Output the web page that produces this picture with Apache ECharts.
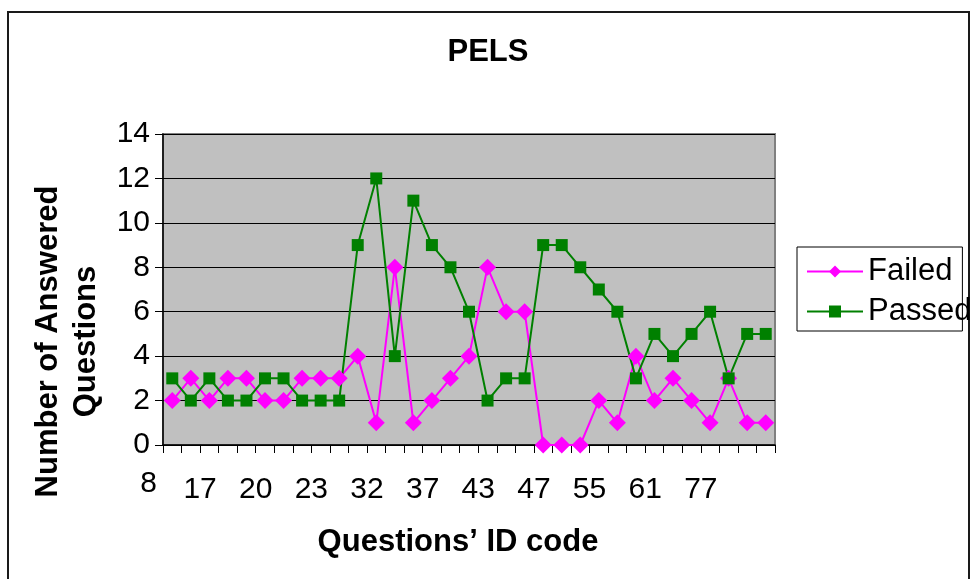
<!DOCTYPE html>
<html>
<head>
<meta charset="utf-8">
<script src="https://cdn.jsdelivr.net/npm/echarts@6/dist/echarts.min.js"></script>
<style>
  html, body { margin: 0; padding: 0; background: #ffffff; }
  #frame {
    position: absolute; left: 7px; top: 11px; width: 963px; height: 620px;
    border: 2px solid #1a1a1a; box-sizing: border-box;
  }
  #chart { position: absolute; left: 0; top: 0; width: 976px; height: 579px; }
</style>
</head>
<body>
<div id="frame"></div>
<div id="chart"></div>
<script>
// Answered questions per question, in question order
const failed = [2, 3, 2, 3, 3, 2, 2, 3, 3, 3, 4, 1, 8, 1, 2, 3, 4, 8, 6, 6, 0, 0, 0, 2, 1, 4, 2, 3, 2, 1, 3, 1, 1];
const passed = [3, 2, 3, 2, 2, 3, 3, 2, 2, 2, 9, 12, 4, 11, 9, 8, 6, 2, 3, 3, 9, 9, 8, 7, 6, 3, 5, 4, 5, 6, 3, 5, 5];

// Question ID codes shown under the category axis
const tickLabels = ['8', '17', '20', '23', '32', '37', '43', '47', '55', '61', '77'];

const FONT = 'Liberation Sans, Arial, sans-serif';

// one slot per question
const questionSlots = failed.map((_, i) => String(i + 1));

// label slots sit on the category boundaries (n + 1 of them):
// first code at the start, the rest on every third boundary from the second one
const boundarySlots = new Array(questionSlots.length + 1).fill('');
boundarySlots[0] = tickLabels[0];
for (let k = 1; k < tickLabels.length; k++) {
  boundarySlots[2 + 3 * (k - 1)] = tickLabels[k];
}

const chart = echarts.init(document.getElementById('chart'), null, { renderer: 'canvas' });

chart.setOption({
  animation: false,
  backgroundColor: 'transparent',
  textStyle: { fontFamily: FONT },
  title: {
    text: 'PELS',
    left: 'center',
    top: 37,
    padding: 0,
    textStyle: { fontFamily: FONT, fontSize: 31, fontWeight: 'bold', color: '#000' }
  },
  legend: {
    orient: 'vertical',
    left: 797,
    top: 247,
    padding: [9, -9, 4, 9],
    itemGap: 9,
    itemWidth: 56,
    itemHeight: 15,
    backgroundColor: '#ffffff',
    borderColor: '#000000',
    borderWidth: 1,
    borderRadius: 0,
    data: ['Failed', 'Passed'],
    textStyle: { fontFamily: FONT, fontSize: 31, color: '#000' }
  },
  grid: {
    left: 163, right: 201, top: 134, bottom: 134,
    show: true,
    backgroundColor: '#c0c0c0',
    borderColor: '#808080',
    borderWidth: 2
  },
  xAxis: [
    {
      type: 'category',
      data: questionSlots,
      boundaryGap: true,
      axisLine: { lineStyle: { color: '#000', width: 1.5 } },
      axisTick: { show: true, interval: 0, length: 8, lineStyle: { color: '#000', width: 1 } },
      axisLabel: { show: false, interval: 0 },
      splitLine: { show: false },
      name: 'Questions\u2019 ID code',
      nameLocation: 'middle',
      nameGap: 82,
      nameTextStyle: { fontFamily: FONT, fontSize: 31, fontWeight: 'bold', color: '#000', padding: [0, 22, 0, 0] }
    },
    {
      type: 'category',
      data: boundarySlots,
      boundaryGap: false,
      position: 'bottom',
      axisLine: { show: false },
      axisTick: { show: false },
      splitLine: { show: false },
      axisLabel: {
        interval: 0,
        margin: 23,
        formatter: (v, i) => (v === '' ? '' : (i === 0 ? '{e|' + v + '}' : '{n|' + v + '}')),
        rich: {
          n: { fontFamily: FONT, fontSize: 30, color: '#000', lineHeight: 44 },
          e: { fontFamily: FONT, fontSize: 30, color: '#000', lineHeight: 32, padding: [0, 29, 0, 0] }
        }
      }
    }
  ],
  yAxis: {
    type: 'value',
    min: 0,
    max: 14,
    interval: 2,
    axisLine: { show: true, lineStyle: { color: '#000', width: 1.5 } },
    axisTick: { show: true, length: 8, lineStyle: { color: '#000', width: 1 } },
    axisLabel: { fontFamily: FONT, fontSize: 30, color: '#000', margin: 13 },
    splitLine: { show: true, lineStyle: { color: '#000', width: 1 } },
    name: 'Number of Answered\nQuestions',
    nameLocation: 'middle',
    nameRotate: 90,
    nameGap: 53,
    nameTextStyle: {
      fontFamily: FONT, fontSize: 31, fontWeight: 'bold', color: '#000',
      lineHeight: 38, align: 'center', padding: [0, 104, 0, 0]
    }
  },
  series: [
    {
      name: 'Failed',
      type: 'line',
      data: failed,
      symbol: 'diamond',
      symbolSize: 17,
      showAllSymbol: true,
      color: '#ff00ff',
      lineStyle: { color: '#ff00ff', width: 2 },
      itemStyle: { color: '#ff00ff' }
    },
    {
      name: 'Passed',
      type: 'line',
      data: passed,
      symbol: 'rect',
      symbolSize: 12,
      showAllSymbol: true,
      color: '#008000',
      lineStyle: { color: '#008000', width: 2 },
      itemStyle: { color: '#008000' }
    }
  ]
});
</script>
</body>
</html>
